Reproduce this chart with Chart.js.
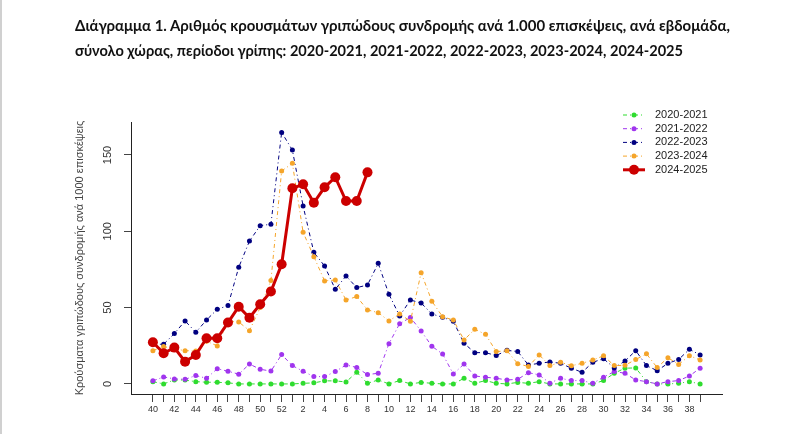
<!DOCTYPE html>
<html><head><meta charset="utf-8">
<script src="https://cdn.jsdelivr.net/npm/chart.js@4.4.1/dist/chart.umd.min.js"></script>
<style>
html,body{margin:0;padding:0;background:#fff;}
#wrap{position:relative;width:800px;height:434px;overflow:hidden;background:#fff;}
#edge{position:absolute;left:0;top:0;width:2px;height:434px;background:#d0d0d0;}
.t{position:absolute;left:75px;font-family:Lato,"Open Sans",sans-serif;font-weight:700;font-size:15px;color:#111;white-space:nowrap;transform-origin:0 50%;line-height:18px;}
canvas{position:absolute;left:0;top:0;}
</style></head><body>
<div id="wrap">
<canvas id="c" width="800" height="434"></canvas>
<div id="t1" class="t" style="top:16px">Διάγραμμα 1. Αριθμός κρουσμάτων γριπώδους συνδρομής ανά 1.000 επισκέψεις, ανά εβδομάδα,</div>
<div id="t2" class="t" style="top:41px">σύνολο χώρας, περίοδοι γρίπης: 2020-2021, 2021-2022, 2022-2023, 2023-2024, 2024-2025</div>
<div id="edge"></div>
</div>
<script>
const weeks = [40,41,42,43,44,45,46,47,48,49,50,51,52,1,2,3,4,5,6,7,8,9,10,11,12,13,14,15,16,17,18,19,20,21,22,23,24,25,26,27,28,29,30,31,32,33,34,35,36,37,38,39];
const yTicks = [0,50,100,150];
const seasons = ["2020-2021","2021-2022","2022-2023","2023-2024","2024-2025"];
const s2020 = [1.5,0,2.6,2.5,1.5,1.1,1.1,0.7,0,0,0,0,0,0,0.4,0.7,2,2,1.3,7.6,0.4,2.6,0,2.2,0,1,0.4,0,0,3.7,0.4,2.2,0.4,0,1,0.4,1.5,0,0,0,0,0,2.2,7,10.3,10.5,1.5,0,0,0.4,1.5,0];
const s2021 = [2,4.6,3.3,3,5.5,3.7,10,8.3,6.4,13,9.6,8.4,19.2,12,8.3,4.8,4.8,8.1,12.4,10.8,6.1,7,26.4,39.5,43.5,34.7,24.7,19.6,6.5,13.1,5.2,4.4,3.7,2.6,3,7.4,5.9,0.5,3.7,2.2,2.2,0.4,4.4,8.1,7,2.6,1.5,0,1.5,2.2,5.2,10.3];
const s2022 = [26,26,33,41.3,33.8,41.9,48.9,51.3,76.4,93.6,103.7,104.6,164.8,153.2,116.6,86.2,77.3,62,70.7,63.1,64.8,79,58.7,44.5,55,53,45.8,43.7,41,26.6,20.5,20.5,18.6,22,21.2,12.4,13.5,14.4,13.5,10.3,7.6,14.2,16.5,10.5,15,21.8,12,8.7,13.5,16,22.7,19];
const s2023 = [21.8,24.5,23,21.8,21.6,28,24.9,41,40.6,34.9,50,67.7,139.5,144.5,99.3,83.4,67.5,68.1,55,57.2,48.5,46.7,41.3,45.8,41.1,72.9,54.2,44,41.9,28.8,35.8,32.5,21.2,21.7,13.3,11.4,19,12,14.2,11.9,13.5,15.7,18.4,12,12.2,16,19.7,10.7,17.2,12.7,18.5,15.7];
const s2024 = [27.3,20.1,23.8,14.6,19,29.9,29.9,40.2,50.6,43.4,52.2,60.5,78.4,128.2,130.8,118.7,128.8,135.4,119.8,119.8,138.6];
const yTitle = "Κρούσματα γριπώδους συνδρομής ανά 1000 επισκέψεις";

const colors = ["#2fdc2f","#a035ee","#000080","#f5a52a","#cc0000"];
const series = [s2020,s2021,s2022,s2023,s2024];
const pts = arr => arr.map((v,i)=>({x:i,y:v}));

const datasets = series.map((arr,i)=>{
  const main = i===4;
  return {
    label: seasons[i],
    data: pts(arr),
    borderColor: colors[i],
    backgroundColor: colors[i],
    pointBackgroundColor: colors[i],
    pointBorderColor: colors[i],
    borderWidth: main?3:1,
    borderDash: main?[]:[4,3,1,3],
    pointRadius: main?5:2.5,
    pointBorderWidth: 0,
    tension: 0,
    order: 5-i
  };
});

const rPlugin = {
  id:'rStyle',
  afterDraw(chart){
    const ctx = chart.ctx, ys = chart.scales.y;
    ctx.save();
    ctx.fillStyle = '#333';
    ctx.font = '11px "Liberation Sans", Arial, sans-serif';
    ctx.textAlign = 'center'; ctx.textBaseline = 'middle';
    ys.ticks.forEach(t=>{
      const py = ys.getPixelForValue(t.value);
      ctx.save(); ctx.translate(108, py); ctx.rotate(-Math.PI/2);
      ctx.fillText(String(t.value), 0, 0); ctx.restore();
    });
    // legend
    const ds = chart.data.datasets;
    const lx0 = 623, lx1 = 645, tx = 655, y0 = 115, dy = 13.7;
    ds.forEach((d,i)=>{
      const y = y0 + i*dy;
      ctx.save();
      ctx.strokeStyle = d.borderColor; ctx.lineWidth = d.borderWidth;
      ctx.setLineDash(d.borderDash);
      ctx.beginPath(); ctx.moveTo(lx0,y); ctx.lineTo(lx1,y); ctx.stroke();
      ctx.setLineDash([]);
      ctx.fillStyle = d.pointBackgroundColor;
      ctx.beginPath(); ctx.arc((lx0+lx1)/2, y, d.pointRadius, 0, Math.PI*2); ctx.fill();
      ctx.fillStyle = '#222'; ctx.textAlign='left'; ctx.textBaseline='middle';
      ctx.font = '11px "Liberation Sans", Arial, sans-serif';
      ctx.fillText(d.label, tx, y);
      ctx.restore();
    });
    ctx.restore();
  }
};

new Chart(document.getElementById('c'), {
  type: 'line',
  data: { datasets },
  options: {
    responsive:false, animation:false,
    layout:{ padding:{ left:0, right:78, top:122, bottom:0 } },
    plugins:{ legend:{display:false}, tooltip:{enabled:false}, title:{display:false} },
    scales:{
      x:{
        type:'linear', min:-2.04, max:53.04,
        afterBuildTicks: s => { s.ticks = weeks.map((w,i)=>({value:i})); },
        afterFit: s => { s.height = 40; },
        grid:{ display:true, drawOnChartArea:false, drawTicks:true, tickLength:8, color:'#444' },
        border:{ display:true, color:'#222', width:1 },
        ticks:{ autoSkip:false, maxRotation:0, minRotation:0, padding:2, color:'#333',
          font:{ size:9, family:'"Liberation Sans", Arial, sans-serif' },
          callback: v => (v%2===0 ? String(weeks[v]) : '') }
      },
      y:{
        type:'linear', min:-6.6, max:171.6,
        afterBuildTicks: s => { s.ticks = yTicks.map(v=>({value:v})); },
        afterFit: s => { s.width = 131; },
        grid:{ display:true, drawOnChartArea:false, drawTicks:true, tickLength:7, color:'#444' },
        border:{ display:true, color:'#222', width:1 },
        ticks:{ display:false },
        title:{ display:true, text:yTitle, color:'#444', padding:{top:73.4,bottom:0},
          font:{ size:11, family:'"Liberation Sans", Arial, sans-serif' } }
      }
    }
  },
  plugins:[rPlugin]
});

function fit(id, target){
  const el = document.getElementById(id);
  const w = el.getBoundingClientRect().width;
  if (w>0) el.style.transform = 'scaleX(' + (target/w) + ')';
}
fit('t1', 655); fit('t2', 608);
</script>
</body></html>
